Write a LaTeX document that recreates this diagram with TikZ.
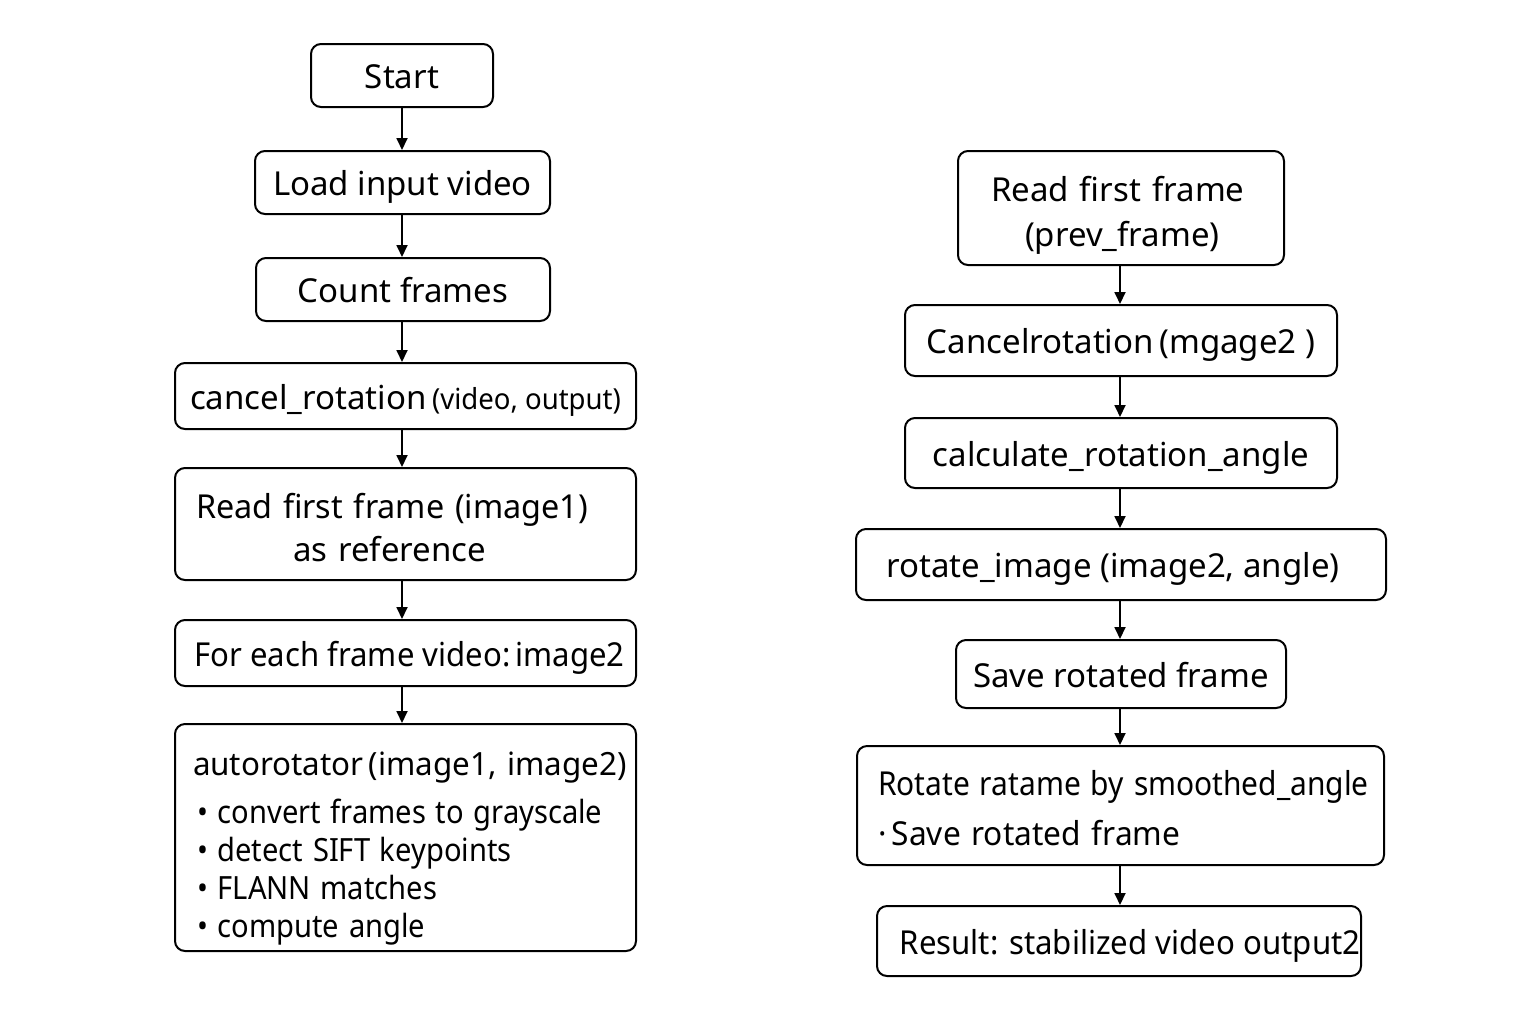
\documentclass[tikz,border=0pt]{standalone}
\usepackage{fontspec}
\setmainfont{Noto Sans}
\usepackage{graphicx}
\usetikzlibrary{arrows.meta}
\newcommand\sqz[2]{\scalebox{#1}[1]{#2}}
\begin{document}
\begin{tikzpicture}[x=0.5pt,y=-0.5pt,
  box/.style={draw, line width=1pt, rounded corners=5pt, inner sep=0pt,
    font=\fontsize{16.5}{20}\selectfont},
  sbox/.style={box, text height=13pt, text depth=0pt},
  leftbox/.style={box, align=left, inner xsep=#1},
  arr/.style={-{Triangle[length=6pt,width=5.5pt]}, line width=0.9pt}]
\useasboundingbox[fill=white] (0,0) rectangle (1536,1024);
\coordinate (colL) at (402,0);
\coordinate (colR) at (1120,0);
% left column
\node[sbox, minimum width=91pt, minimum height=31.5pt] (start) at (402,75.5) {Start};
\node[sbox, minimum width=147.5pt, minimum height=31.5pt] (load) at (402.5,182.5) {Load input video};
\node[sbox, minimum width=147pt, minimum height=31.5pt] (count) at (403,289.5) {Count frames};
\node[sbox, minimum width=230.5pt, minimum height=33pt] (cancel) at (405.5,396)
  {cancel\_rotation\,{\fontsize{14.5}{18}\selectfont\sqz{0.95}{(video, output)}}};
\node[leftbox=10.5pt, text width=209.5pt, minimum height=56pt] (readfirst) at (405.5,524)
  {\mbox{\rule{0pt}{16.5pt}\sqz{0.98}{Read first frame (image1)}}\\[1.5pt]\hspace*{48.5pt}\mbox{as reference}};
\node[sbox, minimum width=230.5pt, minimum height=33pt] (foreach) at (405.5,653)
  {\hspace*{4pt}\sqz{0.943}{For each frame video:\,image2}};
\node[leftbox=9pt, text width=212.5pt, minimum height=113.5pt, font=\fontsize{16}{19}\selectfont] (auto) at (405.5,837.5)
  {\mbox{\rule{0pt}{23pt}\sqz{0.98}{autorotator\,(image1, image2)}}\\[5pt]
   \mbox{\hspace*{2pt}\sqz{0.91}{\textbullet\ convert frames to grayscale}}\\
   \mbox{\hspace*{2pt}\sqz{0.91}{\textbullet\ detect SIFT keypoints}}\\
   \mbox{\hspace*{2pt}\sqz{0.91}{\textbullet\ FLANN matches}}\\
   \mbox{\hspace*{2pt}\sqz{0.91}{\textbullet\ compute angle}}};
% right column
\node[leftbox=16.5pt, text width=130pt, minimum height=57pt] (rprev) at (1121,208)
  {\mbox{\rule{0pt}{19.5pt}Read first frame}\\[2.5pt]\hspace*{17pt}\mbox{(prev\_frame)}};
\node[sbox, minimum width=216pt, minimum height=35.5pt] (rcancel) at (1121,340.5) {Cancelrotation\,(mgage2~)};
\node[sbox, minimum width=216pt, minimum height=35pt] (rcalc) at (1121,453) {calculate\_rotation\_angle};
\node[sbox, minimum width=265pt, minimum height=35.5pt] (rrot) at (1121,564.5) {rotate\_image (image2, angle)\hspace*{8pt}};
\node[sbox, minimum width=165pt, minimum height=34pt] (rsave) at (1121,674) {Save rotated frame};
\node[leftbox=10.5pt, text width=242.5pt, minimum height=59.5pt] (rsmooth) at (1120.5,805.5)
  {\mbox{\rule{0pt}{15pt}\sqz{0.907}{Rotate ratame by smoothed\_angle}}\\[5pt]\mbox{\sqz{0.96}{·\,Save rotated frame}}};
\node[sbox, minimum width=242pt, minimum height=35pt] (rresult) at (1119,941)
  {\hspace*{11pt}\sqz{0.945}{Result: stabilized video output2}};
% arrows
\foreach \a/\b in {start/load, load/count, count/cancel, cancel/readfirst, readfirst/foreach, foreach/auto}
  \draw[arr] (\a.south -| colL) -- (\b.north -| colL);
\foreach \a/\b in {rprev/rcancel, rcancel/rcalc, rcalc/rrot, rrot/rsave, rsave/rsmooth, rsmooth/rresult}
  \draw[arr] (\a.south -| colR) -- (\b.north -| colR);
\end{tikzpicture}
\end{document}
